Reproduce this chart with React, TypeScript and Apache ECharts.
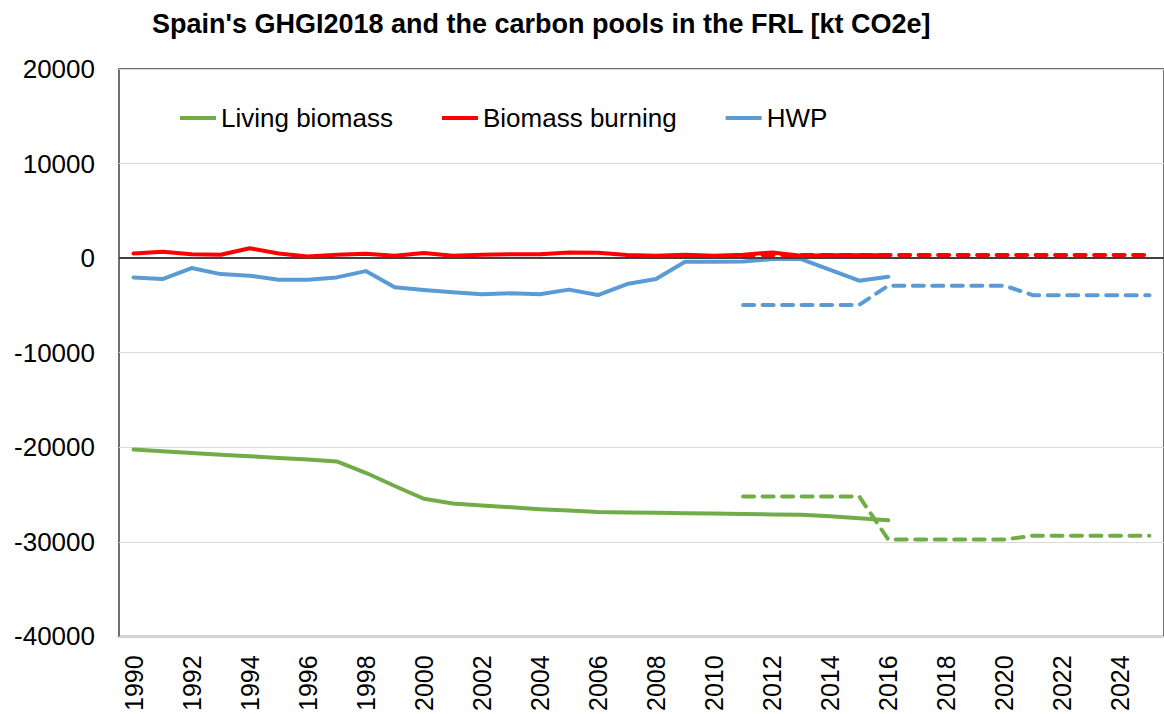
import React, { useEffect, useRef } from "react";
import * as echarts from "echarts";

const years = [
  "1990", "1991", "1992", "1993", "1994", "1995", "1996", "1997", "1998", "1999",
  "2000", "2001", "2002", "2003", "2004", "2005", "2006", "2007", "2008", "2009",
  "2010", "2011", "2012", "2013", "2014", "2015", "2016", "2017", "2018", "2019",
  "2020", "2021", "2022", "2023", "2024", "2025",
];

// GHGI2018 (1990-2016)
const livingBiomass = [
  -20250, -20420, -20600, -20780, -20950, -21130, -21300, -21500, -22700, -24100,
  -25450, -25950, -26150, -26350, -26550, -26700, -26850, -26900, -26920, -26980,
  -27000, -27050, -27100, -27150, -27300, -27500, -27720,
];
const biomassBurning = [
  490, 670, 420, 350, 1050, 490, 180, 350, 460, 250,
  530, 250, 350, 420, 420, 600, 560, 320, 250, 350,
  250, 350, 600, 250, 300, 300, 300,
];
const hwp = [
  -2040, -2210, -1050, -1690, -1860, -2280, -2280, -2040, -1370, -3090,
  -3370, -3620, -3830, -3720, -3830, -3330, -3900, -2740, -2210, -390,
  -390, -350, -100, -100, -1230, -2390, -1970,
];

// FRL carbon pools (2011-2025)
const frlStartIndex = 21;
const livingBiomassFRL = [
  -25200, -25200, -25200, -25200, -25200, -29750, -29750, -29750, -29750, -29750,
  -29350, -29350, -29350, -29350, -29350,
];
const biomassBurningFRL = [
  320, 320, 320, 320, 320, 320, 320, 320, 320, 320, 320, 320, 320, 320, 320,
];
const hwpFRL = [
  -4950, -4950, -4950, -4950, -4950, -2910, -2910, -2910, -2910, -2910,
  -3930, -3930, -3930, -3930, -3930,
];

const yTicks = { min: -40000, max: 20000, interval: 10000 };

const GREEN = "#70AD47";
const RED = "#FF0000";
const BLUE = "#5B9BD5";
const FONT = "Liberation Sans, Arial, sans-serif";

function padHist(arr: number[]): (number | null)[] {
  return years.map((_, i) => (i < arr.length ? arr[i] : null));
}
function padFRL(arr: number[]): (number | null)[] {
  return years.map((_, i) =>
    i >= frlStartIndex && i - frlStartIndex < arr.length ? arr[i - frlStartIndex] : null
  );
}

export default function App() {
  const ref = useRef<HTMLDivElement>(null);
  useEffect(() => {
    if (!ref.current) return;
    const chart = echarts.init(ref.current, null, { renderer: "svg" });
    const solid = (name: string, color: string, data: (number | null)[], z: number) => ({
      name,
      type: "line",
      data,
      symbol: "none",
      z,
      lineStyle: { color, width: 4, cap: "round", join: "round" },
      itemStyle: { color },
      connectNulls: false,
    });
    const dashed = (name: string, color: string, data: (number | null)[], z: number) => ({
      name,
      type: "line",
      data,
      symbol: "none",
      z,
      lineStyle: { color, width: 4, type: [11, 8.5], cap: "round", join: "round" },
      itemStyle: { color },
    });
    chart.setOption({
      animation: false,
      backgroundColor: "#ffffff",
      title: {
        text: "Spain's GHGI2018 and the carbon pools in the FRL [kt CO2e]",
        left: 147,
        top: 5,
        textStyle: { fontFamily: FONT, fontSize: 27, fontWeight: "bold", color: "#000" },
      },
      legend: {
        data: ["Living biomass", "Biomass burning", "HWP"],
        left: 175,
        top: 100,
        icon: "rect",
        itemWidth: 36,
        itemHeight: 4,
        itemGap: 49,
        textStyle: { fontFamily: FONT, fontSize: 26, color: "#000" },
      },
      grid: {
        left: 119,
        top: 69,
        width: 1058.4,
        height: 570,
        show: true,
        borderColor: "#404040",
        borderWidth: 1.5,
        containLabel: false,
      },
      xAxis: {
        type: "category",
        data: years,
        boundaryGap: true,
        axisLine: { show: false },
        axisTick: { show: false },
        splitLine: { show: false },
        axisLabel: {
          rotate: 90,
          interval: 1,
          margin: 19,
          fontFamily: FONT,
          fontSize: 25,
          color: "#000",
        },
      },
      yAxis: {
        type: "value",
        min: yTicks.min,
        max: yTicks.max,
        interval: yTicks.interval,
        axisLine: { show: false },
        axisTick: { show: false },
        splitLine: { show: true, lineStyle: { color: "#d9d9d9", width: 1.2 } },
        axisLabel: {
          margin: 24,
          fontFamily: FONT,
          fontSize: 26,
          color: "#000",
          formatter: (v: number) => String(v),
        },
      },
      series: [
        {
          name: "zero",
          type: "line",
          data: [],
          z: 1,
          silent: true,
          markLine: {
            silent: true,
            symbol: "none",
            label: { show: false },
            lineStyle: { color: "#404040", width: 1.8, type: "solid" },
            data: [{ yAxis: 0 }],
          },
        },
        solid("Living biomass", GREEN, padHist(livingBiomass), 3),
        solid("Biomass burning", RED, padHist(biomassBurning), 5),
        solid("HWP", BLUE, padHist(hwp), 4),
        dashed("Living biomass FRL", GREEN, padFRL(livingBiomassFRL), 3),
        dashed("Biomass burning FRL", RED, padFRL(biomassBurningFRL), 6),
        dashed("HWP FRL", BLUE, padFRL(hwpFRL), 4),
      ],
    });
    return () => chart.dispose();
  }, []);
  return (
    <div
      ref={ref}
      style={{ position: "absolute", left: 0, top: 0, width: 1164, height: 714 }}
    />
  );
}
